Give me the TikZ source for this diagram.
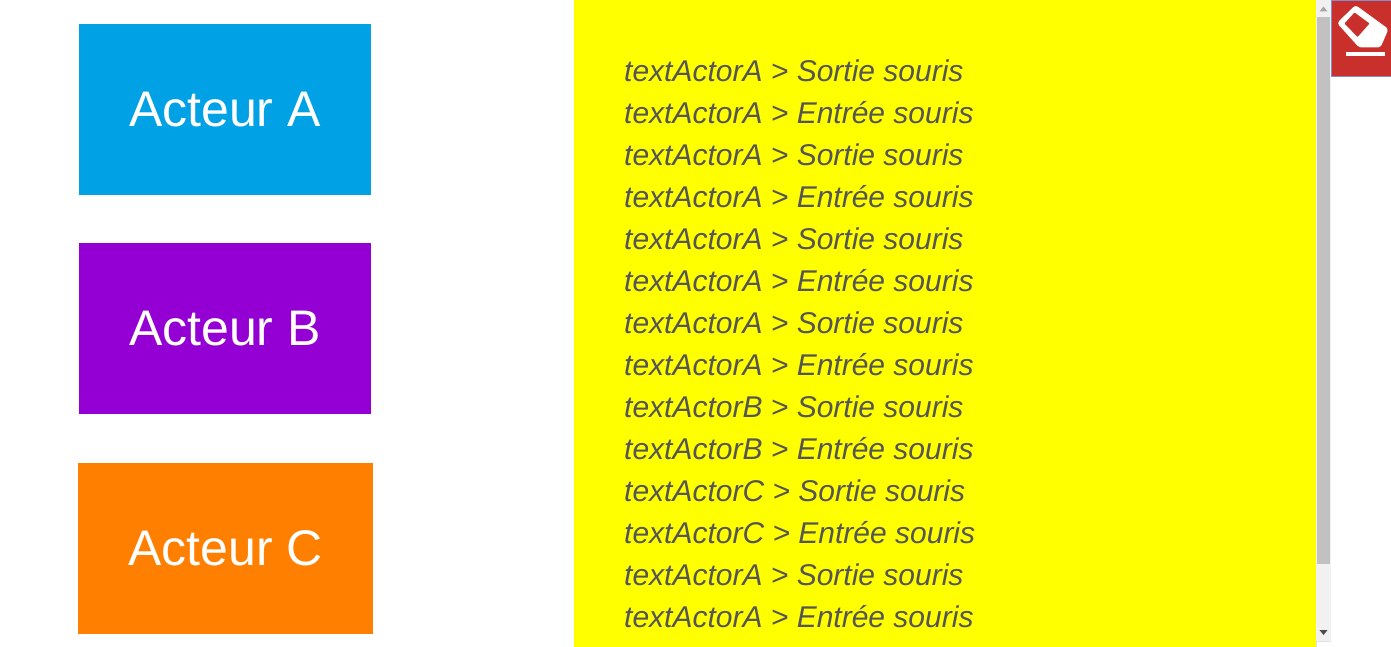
\documentclass[tikz,border=0pt]{standalone}
\usepackage{fontspec}
\setmainfont[Kerning=Off]{Liberation Sans}
\definecolor{actora}{HTML}{00A2E5}
\definecolor{actorb}{HTML}{9400D3}
\definecolor{actorc}{HTML}{FF7F00}
\definecolor{logyellow}{RGB}{255,255,0}
\definecolor{logtext}{HTML}{555555}
\definecolor{erasered}{HTML}{C9302C}
\definecolor{eraseborder}{HTML}{7F8FD0}
\definecolor{scrolltrack}{HTML}{F1F1F1}
\definecolor{scrollthumb}{HTML}{C1C1C1}
\tikzset{
	actor/.style = {fill = #1, text = white, inner sep = 0, minimum height = 171pt, font = \fontsize{50}{60}\selectfont},
	logline/.style = {anchor = base west, inner sep = 0, text = logtext, font = \fontsize{30}{36}\selectfont\itshape}
}

\begin{document}
\begin{tikzpicture}[x = 1pt, y = -1pt]
	\useasboundingbox (0,0) rectangle (1391,647);
	\node [actor = actora, minimum width = 292pt] (actorA) at (225,109.5) {Acteur A};
	\node [actor = actorb, minimum width = 292pt] (actorB) at (225,328.5) {Acteur B};
	\node [actor = actorc, minimum width = 295pt] (actorC) at (225.5,548.5) {Acteur C};
	\fill [logyellow] (574,0) rectangle (1316,647);
	\foreach \who/\what [count = \i from 0] in {A/Sortie,A/Entrée,A/Sortie,A/Entrée,A/Sortie,A/Entrée,A/Sortie,A/Entrée,B/Sortie,B/Entrée,C/Sortie,C/Entrée,A/Sortie,A/Entrée}
		\node [logline] (line\i) at (624,81.6 + 42*\i) {textActor\who{} > \what{} souris};
	% scrollbar
	\fill [scrolltrack] (1316,0) rectangle (1331,641);
	\fill [scrollthumb] (1317,17) rectangle (1330,564);
	\fill [black!35] (1319.5,11.5) -- (1323.5,6.5) -- (1327.5,11.5) -- cycle;
	\fill [black!70] (1319.5,630) -- (1327.5,630) -- (1323.5,635) -- cycle;
	\draw [black!12, thick] (1316,647) -- (1316,641.5) -- (1331,641.5);
	% eraser button
	\draw [fill = erasered, draw = eraseborder] (1391.5,0.5) -- (1331.5,0.5) -- (1331.5,76.5) -- (1391.5,76.5);
	\fill [white, rounded corners = 3pt] (1355.5,5) -- (1388.5,29) -- (1380.5,47.5) -- (1359,47.5) -- (1337,23) -- cycle;
	\fill [erasered, rounded corners = 0.5pt] (1354.5,12.5) -- (1369.5,23.5) -- (1357.5,37) -- (1344.5,23.5) -- cycle;
	\fill [white] (1346,52) rectangle (1384.5,56);
\end{tikzpicture}
\end{document}
